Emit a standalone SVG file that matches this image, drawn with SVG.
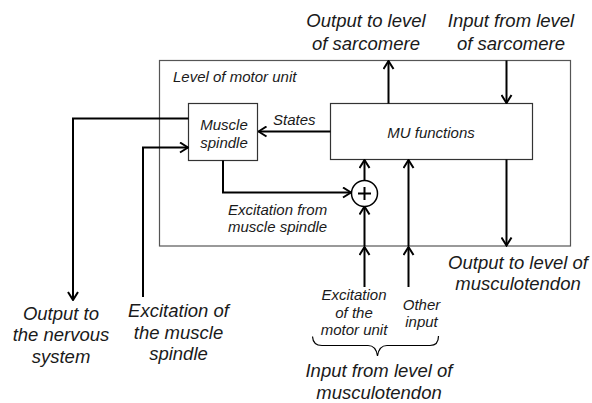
<svg xmlns="http://www.w3.org/2000/svg" width="592" height="403" viewBox="0 0 592 403">
<defs>
<marker id="ah" viewBox="0 0 12 12" refX="11" refY="6" markerWidth="12" markerHeight="12" markerUnits="userSpaceOnUse" orient="auto">
<path d="M3,1 L11,6 L3,11" fill="none" stroke="#000" stroke-width="2"/>
</marker>
<style>
.t{font-family:"Liberation Sans",Arial,sans-serif;font-style:italic;fill:#1a1a1a}
.big{font-size:18.5px}
.sm{font-size:15px}
.box{fill:#fff;stroke:#333;stroke-width:1.2}
.c{fill:none;stroke:#000;stroke-width:2}
.ca{fill:none;stroke:#000;stroke-width:2;marker-end:url(#ah)}
</style>
</defs>
<rect width="592" height="403" fill="#fff"/>
<g id="motor-unit-level">
<rect x="159.5" y="60.5" width="411" height="185.5" fill="none" stroke="#555" stroke-width="1.2"/>
<text class="t sm" x="173" y="82">Level of motor unit</text>
</g>
<g id="muscle-spindle">
<rect class="box" x="188.5" y="103.5" width="69" height="57"/>
<text class="t sm" text-anchor="middle" x="224" y="129.5">Muscle</text>
<text class="t sm" text-anchor="middle" x="224" y="148">spindle</text>
</g>
<g id="mu-functions">
<rect class="box" x="330.5" y="103.5" width="202" height="56"/>
<text class="t sm" text-anchor="middle" x="431" y="138">MU functions</text>
</g>
<g id="sum">
<circle cx="364.5" cy="193.5" r="13" fill="#fff" stroke="#000" stroke-width="1.5"/>
<path d="M358,193.5 H371 M364.5,187 V200" stroke="#000" stroke-width="2" fill="none"/>
</g>
<g id="connectors">
<path class="ca" d="M388.5,103.5 V61"/>
<path class="ca" d="M506.5,60.5 V103"/>
<path class="ca" d="M330.5,131.5 H258.5"/>
<path class="ca" d="M188.5,118.5 H73 V300"/>
<path class="ca" d="M143,297 V147.5 H188"/>
<path class="ca" d="M223,160.5 V192.5 H351"/>
<path class="ca" d="M364.5,180.5 V160"/>
<path class="ca" d="M364.5,287 V247"/>
<path class="ca" d="M364.5,246 V206.5"/>
<path class="ca" d="M408.5,287 V247"/>
<path class="ca" d="M408.5,246 V160"/>
<path class="ca" d="M506.5,159.5 V245.5"/>
<path d="M312.5,336.5 Q313,345.5 322,345.5 H368 Q376,345.5 377.5,356 Q379,345.5 387,345.5 H430 Q438.5,345.5 438.5,336" fill="none" stroke="#000" stroke-width="1.2"/>
</g>
<g id="labels">
<text class="t sm" x="273" y="125">States</text>
<text class="t sm" x="228" y="214.5">Excitation from</text>
<text class="t sm" x="228" y="232">muscle spindle</text>
<text class="t big" text-anchor="middle" x="366" y="26.5">Output to level</text>
<text class="t big" text-anchor="middle" x="366" y="49.5">of sarcomere</text>
<text class="t big" text-anchor="middle" x="511" y="26.5">Input from level</text>
<text class="t big" text-anchor="middle" x="511" y="49.5">of sarcomere</text>
<text class="t big" text-anchor="middle" x="518" y="268.5">Output to level of</text>
<text class="t big" text-anchor="middle" x="518" y="290">musculotendon</text>
<text class="t big" text-anchor="middle" x="61" y="319.5">Output to</text>
<text class="t big" text-anchor="middle" x="61" y="341">the nervous</text>
<text class="t big" text-anchor="middle" x="61" y="362.5">system</text>
<text class="t big" text-anchor="middle" x="178.5" y="317">Excitation of</text>
<text class="t big" text-anchor="middle" x="178.5" y="338.5">the muscle</text>
<text class="t big" text-anchor="middle" x="178.5" y="360">spindle</text>
<text class="t sm" text-anchor="middle" x="354" y="300">Excitation</text>
<text class="t sm" text-anchor="middle" x="354" y="317.5">of the</text>
<text class="t sm" text-anchor="middle" x="354" y="335">motor unit</text>
<text class="t sm" text-anchor="middle" x="421.5" y="309.5">Other</text>
<text class="t sm" text-anchor="middle" x="421.5" y="327">input</text>
<text class="t big" text-anchor="middle" x="379" y="377">Input from level of</text>
<text class="t big" text-anchor="middle" x="379" y="398.5">musculotendon</text>
</g>
</svg>
